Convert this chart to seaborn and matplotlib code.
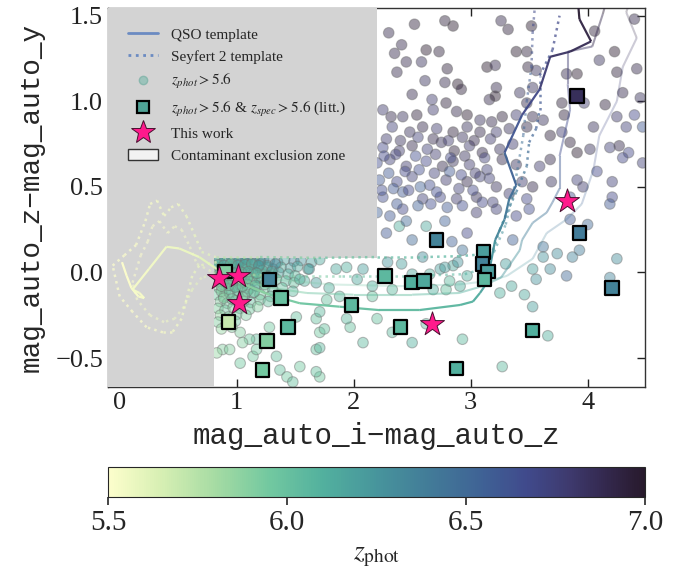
import matplotlib
matplotlib.use("Agg")
import matplotlib.pyplot as plt
import numpy as np
import pandas as pd
import seaborn as sns
from matplotlib.colors import LinearSegmentedColormap, Normalize
from matplotlib.collections import LineCollection
from matplotlib.lines import Line2D
from matplotlib.patches import Patch, Polygon

# ---- colour scale (zphot) ----
z_min, z_max = 5.5, 7.0
cbar_ticks = [5.5, 6.0, 6.5, 7.0]

# ---- contaminant exclusion zone ----
zone_x = [-0.2, 0.81, 0.81, 2.2, 2.2, -0.2]
zone_y = [-0.8, -0.8, 0.085, 0.085, 1.7, 1.7]

# ---- templates (colour track, colour-coded with z) ----
qso1_x = [0.02, 0.06, 0.10, 0.16, 0.21, 0.17, 0.11, 0.25, 0.40, 0.51,
          0.68, 0.83, 1.03, 1.28, 1.54, 1.88, 2.22, 2.56, 2.91, 3.02,
          3.08, 3.14, 3.21, 3.29, 3.33, 3.39, 3.29, 3.44, 3.59, 3.68,
          3.85, 4.03, 3.93, 3.92]
qso1_y = [0.06, -0.02, -0.09, -0.14, -0.15, -0.12, -0.10, 0.02, 0.15, 0.14,
          0.09, 0.02, -0.06, -0.13, -0.18, -0.20, -0.22, -0.22, -0.19, -0.17,
          -0.12, -0.06, 0.19, 0.31, 0.43, 0.51, 0.70, 0.92, 1.07, 1.26,
          1.29, 1.35, 1.48, 1.56]
qso1_z = [5.50, 5.50, 5.51, 5.52, 5.52, 5.53, 5.53, 5.54, 5.55, 5.56,
          5.58, 5.62, 5.85, 5.92, 5.96, 6.00, 6.02, 6.05, 6.08, 6.10,
          6.15, 6.20, 6.30, 6.38, 6.45, 6.50, 6.58, 6.65, 6.72, 6.80,
          6.85, 6.90, 6.95, 7.00]

qso2_x = [0.85, 1.00, 1.30, 1.60, 2.00, 2.50, 2.90, 3.10, 3.26, 3.42, 3.44,
          3.53, 3.65, 3.70, 3.76, 3.76, 3.85, 3.83, 3.83, 4.04, 4.13, 4.15]
qso2_y = [0.00, -0.04, -0.09, -0.12, -0.13, -0.13, -0.12, -0.08, -0.03, 0.13, 0.19,
          0.29, 0.35, 0.41, 0.49, 0.68, 0.95, 1.10, 1.29, 1.32, 1.51, 1.56]
qso2_z = [5.75, 5.85, 5.92, 5.97, 6.00, 6.04, 6.08, 6.12, 6.20, 6.30, 6.35,
          6.40, 6.45, 6.50, 6.55, 6.62, 6.70, 6.75, 6.80, 6.85, 6.95, 7.00]

qso3_x = [0.90, 1.30, 1.80, 2.40, 2.90, 3.15, 3.31, 3.53, 3.65, 3.82, 3.95,
          4.05, 4.10, 4.25, 4.30, 4.42, 4.33, 4.35]
qso3_y = [0.02, -0.04, -0.07, -0.08, -0.07, -0.05, -0.02, 0.08, 0.23, 0.31, 0.40,
          0.60, 0.80, 1.00, 1.20, 1.37, 1.52, 1.56]
qso3_z = [5.80, 5.90, 5.97, 6.02, 6.08, 6.15, 6.20, 6.30, 6.40, 6.45, 6.50,
          6.60, 6.65, 6.72, 6.80, 6.87, 6.95, 7.00]

sey1_x = [0.83, 0.68, 0.62, 0.57, 0.53, 0.45, 0.37, 0.23, 0.11, 0.00,
          -0.06, 0.04, 0.14, 0.22, 0.26, 0.32, 0.38, 0.44, 0.50, 0.57,
          0.64, 0.70, 0.82, 1.20, 1.70, 2.20, 2.60, 2.90, 3.08, 3.19,
          3.25, 3.31, 3.39, 3.48, 3.50, 3.56, 3.59, 3.59, 3.70, 3.76]
sey1_y = [0.06, 0.04, -0.02, -0.16, -0.27, -0.35, -0.35, -0.32, -0.23, -0.14,
          0.04, 0.10, 0.16, 0.30, 0.40, 0.42, 0.33, 0.38, 0.40, 0.33,
          0.22, 0.12, 0.09, 0.09, 0.085, 0.09, 0.09, 0.095, 0.105, 0.13,
          0.25, 0.35, 0.47, 0.62, 0.76, 0.84, 0.95, 1.15, 1.30, 1.50]
sey1_z = [5.60, 5.58, 5.56, 5.55, 5.54, 5.53, 5.52, 5.51, 5.50, 5.50,
          5.50, 5.50, 5.51, 5.52, 5.52, 5.53, 5.53, 5.54, 5.54, 5.55,
          5.56, 5.58, 5.62, 5.85, 5.95, 6.02, 6.06, 6.10, 6.15, 6.20,
          6.28, 6.34, 6.40, 6.45, 6.50, 6.54, 6.58, 6.62, 6.66, 6.70]

sey2_x = [0.85, 0.70, 0.62, 0.55, 0.47, 0.38, 0.26, 0.15, 0.11, 0.18,
          0.24, 0.28, 0.34, 0.41, 0.47, 0.53, 0.60, 0.66, 0.80, 1.30,
          1.90, 2.50, 2.95, 3.10, 3.20, 3.30, 3.36, 3.40, 3.45, 3.48,
          3.52, 3.53, 3.55]
sey2_y = [-0.01, -0.03, -0.10, -0.20, -0.27, -0.29, -0.25, -0.16, -0.06, 0.10,
          0.18, 0.27, 0.30, 0.23, 0.27, 0.25, 0.15, 0.05, 0.00, -0.02,
          -0.02, -0.02, -0.01, 0.02, 0.12, 0.28, 0.45, 0.60, 0.80, 1.00,
          1.20, 1.40, 1.56]
sey2_z = [5.62, 5.60, 5.58, 5.56, 5.55, 5.54, 5.53, 5.52, 5.51, 5.50,
          5.50, 5.51, 5.51, 5.52, 5.52, 5.53, 5.54, 5.56, 5.60, 5.90,
          5.98, 6.04, 6.10, 6.15, 6.22, 6.30, 6.36, 6.42, 6.48, 6.54,
          6.60, 6.65, 6.70]

# ---- zphot > 5.6 candidates (circles) ----
upper_x = [2.78, 2.85, 3.26, 3.32, 3.52, 2.30, 2.52,
           2.41, 2.62, 2.73, 2.45, 2.58, 3.39, 3.48, 2.35,
           2.37, 2.80, 3.14, 3.21, 3.49, 3.56, 3.82, 3.91, 4.25, 4.42, 4.23, 4.10, 4.06, 4.40,
           2.61, 2.78, 2.89, 2.92, 3.22, 3.53,
           2.50, 2.67, 2.79, 3.16, 3.21, 3.42, 3.48, 3.78, 3.97, 4.30, 4.45, 4.15,
           2.25, 2.32, 2.42, 2.54, 2.68, 2.88, 2.97, 3.08, 3.18, 3.27, 3.39, 3.53, 3.62, 3.80, 4.25, 4.40,
           4.33, 4.47, 4.05,
           2.33, 2.48, 2.59, 2.71, 2.85, 2.97, 3.08, 3.22, 3.33, 3.48, 3.68, 3.78,
           2.25, 2.39, 2.50, 2.63, 2.75, 2.86, 2.99, 3.10, 3.25, 3.36, 3.85, 3.91, 4.02, 4.19, 4.27, 4.35,
           2.20, 2.31, 2.45, 2.62, 2.76, 2.85, 2.99, 3.14, 3.27, 3.39, 3.59, 3.68, 4.30, 4.47,
           2.22, 2.37, 2.50, 2.65, 2.79, 2.97, 3.08, 3.22, 3.44, 3.53, 3.69, 3.91, 3.96, 4.08, 4.21,
           2.25, 2.42, 2.59, 2.74, 2.88, 3.05, 3.19, 3.33, 3.48, 3.85, 4.21, 4.19,
           2.20, 2.31, 2.42, 2.93, 3.05, 3.22, 3.39, 3.50, 3.85, 4.00,
           2.28, 2.50, 2.97, 3.36, 3.62, 2.39, 2.84]
upper_y = [1.47, 1.44, 1.47, 1.42, 1.44, 1.40, 1.45,
           1.33, 1.30, 1.29, 1.23, 1.23, 1.29, 1.29, 1.28,
           1.17, 1.19, 1.20, 1.21, 1.20, 1.18, 1.16, 1.16, 1.17, 1.19, 1.29, 1.24, 1.41, 1.48,
           1.12, 1.11, 1.10, 1.07, 1.08, 1.08,
           1.04, 1.01, 0.99, 1.01, 1.03, 1.05, 0.99, 0.99, 0.99, 1.05, 1.02, 0.98,
           0.95, 0.91, 0.91, 0.92, 0.95, 0.94, 0.92, 0.89, 0.88, 0.91, 0.92, 0.91, 0.89, 0.92, 0.91, 0.92,
           0.85, 0.85, 0.85,
           0.85, 0.82, 0.85, 0.84, 0.82, 0.85, 0.82, 0.82, 0.84, 0.85, 0.80, 0.82,
           0.73, 0.71, 0.74, 0.72, 0.76, 0.71, 0.74, 0.70, 0.72, 0.75, 0.76, 0.70, 0.72, 0.73, 0.74, 0.70,
           0.64, 0.66, 0.62, 0.65, 0.62, 0.65, 0.63, 0.60, 0.66, 0.63, 0.62, 0.66, 0.67, 0.64,
           0.54, 0.53, 0.56, 0.51, 0.54, 0.53, 0.56, 0.50, 0.53, 0.50, 0.53, 0.54, 0.50, 0.59, 0.53,
           0.44, 0.47, 0.43, 0.44, 0.43, 0.44, 0.41, 0.46, 0.43, 0.44, 0.44, 0.40,
           0.35, 0.33, 0.37, 0.39, 0.35, 0.37, 0.33, 0.37, 0.31, 0.28,
           0.23, 0.19, 0.23, 0.19, 0.15, 0.27, 0.18]
upper_z = [6.95, 7.0, 6.9, 6.95, 7.0, 6.9, 6.95,
           6.9, 7.0, 6.95, 6.9, 6.85, 7.0, 6.95, 6.9,
           6.9, 6.95, 7.0, 6.9, 6.95, 6.85, 6.9, 7.0, 6.95, 6.9, 7.0, 6.85, 6.95, 6.9,
           6.85, 6.9, 7.0, 6.95, 6.9, 6.85,
           6.9, 6.8, 6.95, 6.9, 7.0, 6.85, 6.9, 6.95, 6.8, 6.9, 6.85, 6.95,
           6.8, 6.9, 6.85, 6.95, 6.8, 6.9, 7.0, 6.85, 6.9, 6.95, 6.8, 6.9, 6.85, 6.95, 6.8, 6.7,
           6.75, 6.6, 6.85,
           6.75, 6.85, 6.9, 6.8, 6.95, 6.85, 6.9, 6.8, 6.85, 6.9, 6.95, 6.8,
           6.7, 6.8, 6.9, 6.75, 6.85, 6.95, 6.8, 6.9, 6.85, 6.8, 6.95, 7.0, 6.85, 6.75, 6.9, 6.7,
           6.65, 6.75, 6.8, 6.7, 6.9, 6.85, 6.8, 6.75, 6.9, 6.85, 6.8, 6.9, 6.7, 6.75,
           6.6, 6.7, 6.75, 6.65, 6.8, 6.9, 6.75, 6.85, 6.8, 6.9, 6.85, 6.75, 6.8, 6.7, 6.75,
           6.65, 6.6, 6.75, 6.7, 6.8, 6.85, 6.75, 6.8, 6.7, 6.65, 6.7, 6.6,
           6.55, 6.6, 6.7, 6.65, 6.8, 6.75, 6.7, 6.65, 6.6, 6.5,
           6.6, 6.5, 6.7, 6.55, 6.45, 6.1, 6.55]

core_x = [2.28, 2.40, 2.55, 2.68, 2.81, 2.93, 3.03, 3.17,
          2.26, 2.36, 2.53, 2.70, 2.83, 2.95, 3.12,
          2.30, 2.44, 2.56, 2.69, 2.82, 2.92, 3.04, 3.16,
          2.24, 2.34, 2.47, 2.57, 2.71, 2.90, 3.02,
          2.37, 2.55, 2.66, 2.80, 3.10,
          2.45, 2.62, 2.78]
core_y = [0.78, 0.77, 0.79, 0.78, 0.77, 0.79, 0.77, 0.78,
          0.68, 0.69, 0.68, 0.69, 0.67, 0.68, 0.67,
          0.58, 0.59, 0.60, 0.58, 0.59, 0.57, 0.58, 0.55,
          0.48, 0.49, 0.48, 0.50, 0.47, 0.49, 0.48,
          0.40, 0.39, 0.40, 0.38, 0.41,
          0.30, 0.27, 0.30]
core_z = [6.8, 6.85, 6.75, 6.9, 6.8, 6.85, 6.9, 6.8,
          6.7, 6.75, 6.65, 6.8, 6.7, 6.85, 6.75,
          6.6, 6.7, 6.65, 6.75, 6.6, 6.7, 6.8, 6.75,
          6.65, 6.6, 6.7, 6.55, 6.65, 6.75, 6.7,
          6.6, 6.55, 6.65, 6.6, 6.7,
          6.5, 6.15, 6.55]

cluster_x = [0.84, 0.91, 0.97, 1.04, 1.09, 1.16, 1.23, 1.28, 1.35, 1.41, 1.49, 1.55, 1.64, 1.71,
             0.83, 0.88, 0.95, 1.00, 1.07, 1.12, 1.19, 1.26, 1.31, 1.38, 1.46, 1.52, 1.61,
             0.86, 0.92, 0.99, 1.05, 1.10, 1.18, 1.24, 1.31, 1.36, 1.44, 1.50,
             0.83, 0.89, 0.96, 1.02, 1.08, 1.15, 1.21, 1.27, 1.34, 1.42, 1.49, 1.58,
             0.85, 0.91, 0.98, 1.04, 1.11, 1.17, 1.24, 1.31, 1.39,
             0.83, 0.89, 0.94, 1.01, 1.07, 1.14, 1.20, 1.29, 1.36,
             0.86, 0.92, 0.99, 1.06, 1.12, 1.20, 1.27,
             0.84, 0.90, 0.97, 1.03, 1.11, 1.18,
             0.86, 0.93, 1.00, 1.08,
             0.84, 0.91, 0.99,
             0.87, 0.96]
cluster_y = [0.07, 0.06, 0.075, 0.065, 0.07, 0.055, 0.075, 0.07, 0.06, 0.075, 0.065, 0.07, 0.06, 0.075,
             0.03, 0.02, 0.035, 0.025, 0.03, 0.015, 0.035, 0.03, 0.02, 0.03, 0.025, 0.035, 0.02,
             -0.01, -0.015, 0.0, -0.01, -0.02, -0.005, -0.01, -0.015, 0.0, -0.01, -0.02,
             -0.05, -0.055, -0.045, -0.05, -0.06, -0.045, -0.05, -0.055, -0.04, -0.05, -0.06, -0.05,
             -0.09, -0.10, -0.085, -0.09, -0.095, -0.08, -0.09, -0.10, -0.09,
             -0.13, -0.14, -0.125, -0.13, -0.135, -0.12, -0.13, -0.14, -0.13,
             -0.17, -0.18, -0.165, -0.17, -0.175, -0.16, -0.17,
             -0.21, -0.22, -0.205, -0.21, -0.215, -0.20,
             -0.25, -0.26, -0.245, -0.25,
             -0.29, -0.30, -0.285,
             -0.33, -0.32]
cluster_z = [6.2, 6.1, 6.25, 6.15, 6.3, 6.2, 6.35, 6.25, 6.3, 6.2, 6.35, 6.25, 6.2, 6.15,
             6.0, 6.1, 6.05, 6.15, 6.1, 6.2, 6.3, 6.15, 6.25, 6.1, 6.2, 6.15, 6.1,
             6.0, 5.95, 6.05, 6.1, 6.0, 6.15, 6.1, 6.05, 6.2, 6.1, 6.05,
             5.95, 6.0, 6.05, 5.95, 6.1, 6.0, 6.05, 6.1, 6.0, 6.05, 6.0, 6.1,
             5.9, 6.0, 5.95, 6.05, 6.0, 6.1, 5.95, 6.05, 6.0,
             5.95, 5.9, 6.0, 5.95, 6.05, 6.0, 5.95, 6.0, 6.05,
             5.9, 5.95, 6.0, 5.9, 6.0, 5.95, 6.0,
             5.9, 5.95, 5.9, 6.0, 5.95, 5.9,
             5.85, 5.9, 5.95, 5.9,
             5.9, 5.85, 5.95,
             5.85, 5.9]

cluster2_x = [0.87, 0.94, 1.00, 1.07, 1.13, 1.20, 1.26, 1.33,
              0.86, 0.93, 1.02, 1.08, 1.15, 1.22, 1.30,
              0.85, 0.92, 1.00, 1.06, 1.13, 1.19, 1.27,
              0.88, 0.95, 1.02, 1.09, 1.16, 1.24,
              0.87, 0.94, 1.01, 1.09, 1.15,
              0.89, 0.96, 1.05]
cluster2_y = [0.05, 0.045, 0.05, 0.055, 0.045, 0.05, 0.04, 0.05,
              0.01, 0.005, 0.01, 0.015, 0.0, 0.01, 0.005,
              -0.03, -0.035, -0.025, -0.03, -0.035, -0.03, -0.025,
              -0.07, -0.075, -0.065, -0.07, -0.075, -0.07,
              -0.11, -0.115, -0.105, -0.11, -0.115,
              -0.15, -0.155, -0.145]
cluster2_z = [6.1, 6.15, 6.2, 6.1, 6.25, 6.15, 6.2, 6.3,
              6.0, 6.05, 6.1, 6.0, 6.1, 6.05, 6.15,
              5.95, 6.0, 6.05, 6.0, 5.95, 6.05, 6.0,
              5.95, 6.0, 5.9, 6.0, 6.05, 5.95,
              5.9, 5.95, 6.0, 5.95, 6.0,
              5.9, 5.95, 5.9]

cluster3_x = [0.85, 0.90, 0.96, 1.02, 1.08, 1.14, 1.20,
              0.84, 0.89, 0.95, 1.01, 1.07, 1.13, 1.19,
              0.86, 0.92, 0.98, 1.04, 1.10, 1.17,
              0.85, 0.91, 0.97, 1.03, 1.09,
              0.87, 0.93, 0.99, 1.05]
cluster3_y = [0.08, 0.075, 0.08, 0.07, 0.08, 0.075, 0.07,
              0.045, 0.04, 0.05, 0.04, 0.045, 0.05, 0.04,
              0.0, 0.005, -0.005, 0.0, 0.005, -0.005,
              -0.04, -0.035, -0.045, -0.04, -0.035,
              -0.08, -0.075, -0.085, -0.08]
cluster3_z = [6.15, 6.2, 6.1, 6.25, 6.2, 6.3, 6.25,
              6.05, 6.1, 6.0, 6.1, 6.15, 6.05, 6.2,
              6.0, 5.95, 6.05, 6.0, 6.1, 6.05,
              5.95, 6.0, 5.95, 6.05, 6.0,
              5.9, 5.95, 6.0, 5.95]

low_x = [1.85, 1.94, 2.08, 2.16, 2.33, 2.03, 1.79, 1.68, 1.62, 1.54, 1.48, 1.77, 1.88,
         2.74, 2.85, 2.97, 2.62, 2.68, 2.79, 2.91, 2.16,
         1.68, 1.71, 1.51, 1.28, 1.17, 1.03, 1.14, 1.34, 1.54, 1.68, 2.08, 1.97, 2.33,
         2.50, 2.93, 1.03, 1.37, 1.71,
         0.88, 1.68, 1.43, 1.48, 1.71, 1.94, 1.75, 1.71, 1.11, 1.05, 0.94, 0.83, 1.17,
         2.93, 2.59, 2.78, 2.89, 2.82, 2.65, 2.50, 2.41, 2.29,
         3.93, 3.87, 3.82, 3.74, 3.62, 3.68, 3.53, 3.56, 3.46, 3.53, 3.66, 3.27,
         4.25, 4.19, 3.30, 3.35, 3.25, 2.20, 2.62]
low_y = [0.02, 0.03, 0.02, -0.08, -0.10, -0.04, -0.09, -0.06, 0.02, -0.04, -0.11, -0.16, -0.14,
         0.02, 0.04, -0.02, -0.06, -0.10, -0.10, -0.08, -0.14,
         -0.27, -0.35, -0.26, -0.32, -0.39, -0.35, -0.49, -0.49, -0.55, -0.45, -0.41, -0.32, -0.35,
         -0.41, -0.39, -0.53, -0.57, -0.61,
         -0.45, -0.58, -0.61, -0.64, -0.44, -0.27, -0.33, -0.23, -0.39, -0.41, -0.45, -0.47, -0.45,
         0.13, 0.09, 0.03, 0.06, -0.05, -0.01, -0.01, 0.05, 0.06,
         0.13, 0.09, -0.02, 0.11, 0.09, 0.02, 0.02, -0.04, -0.13, -0.20, -0.37, -0.55,
         0.08, -0.03, 0.05, -0.08, -0.12, -0.27, -0.30]
low_z = [6.15, 6.1, 6.2, 6.1, 6.05, 6.15, 6.1, 6.2, 6.25, 6.1, 6.05, 6.0, 6.05,
         6.2, 6.15, 6.1, 6.05, 6.1, 6.0, 6.1, 6.0,
         6.0, 5.95, 6.0, 5.95, 6.0, 5.9, 5.95, 6.0, 5.95, 6.0, 6.05, 6.0, 6.05,
         6.1, 6.05, 5.95, 6.0, 5.95,
         5.9, 6.0, 5.95, 6.0, 6.05, 6.05, 6.0, 6.05, 5.95, 5.9, 5.9, 5.85, 5.95,
         6.45, 6.3, 6.2, 6.25, 6.05, 6.1, 6.15, 6.2, 6.25,
         6.4, 6.35, 6.5, 6.3, 6.25, 6.3, 6.2, 6.25, 6.15, 6.2, 6.1, 6.05,
         6.3, 6.35, 6.2, 6.15, 6.1, 6.0, 6.05]

# ---- zphot > 5.6 & zspec > 5.6 (literature, squares) ----
spec_x = [3.91, 2.71, 3.93, 4.21, 3.11, 3.10, 3.15, 3.12, 2.50, 2.60, 2.27,
          2.40, 3.53, 2.88, 1.98, 1.28, 1.38, 1.44, 1.26, 1.22, 0.93, 0.90]
spec_y = [1.03, 0.19, 0.23, -0.09, 0.12, 0.05, 0.006, -0.04, -0.06, -0.05, -0.02,
          -0.32, -0.34, -0.56, -0.19, -0.04, -0.15, -0.32, -0.40, -0.57, -0.29, 0.006]
spec_z = [6.85, 6.35, 6.4, 6.35, 6.2, 6.35, 6.2, 6.05, 6.1, 6.15, 6.05,
          6.05, 6.1, 6.1, 6.05, 6.35, 6.0, 6.05, 5.9, 5.95, 5.7, 5.9]

# ---- this work (stars) ----
work_x = [3.82, 2.67, 0.85, 1.01, 1.02]
work_y = [0.42, -0.30, -0.03, -0.02, -0.18]

deep = LinearSegmentedColormap.from_list("deep_like", [
    (0.00, "#fdfecc"), (0.10, "#d6efb3"), (0.20, "#a5dba3"), (0.30, "#72c8a0"),
    (0.40, "#52b09e"), (0.50, "#47959c"), (0.60, "#427b98"), (0.70, "#3f6195"),
    (0.78, "#404a8c"), (0.86, "#3e3a6e"), (0.93, "#33284d"), (1.00, "#281a2c")])
norm = Normalize(z_min, z_max)

sns.set_style("ticks")
plt.rcParams["font.family"] = ["Liberation Serif", "DejaVu Serif"]
plt.rcParams["mathtext.fontset"] = "stix"

fig = plt.figure(figsize=(6.92, 5.71), dpi=100)
ax = fig.add_axes([0.156, 0.322, 0.776, 0.664])
cax = fig.add_axes([0.156, 0.130, 0.776, 0.0525])

circles = pd.DataFrame({
    "x": upper_x + core_x + cluster_x + cluster2_x + cluster3_x + low_x,
    "y": upper_y + core_y + cluster_y + cluster2_y + cluster3_y + low_y,
    "z": upper_z + core_z + cluster_z + cluster2_z + cluster3_z + low_z,
})
sns.scatterplot(data=circles, x="x", y="y", hue="z", palette=deep, hue_norm=norm,
                s=58, alpha=0.45, edgecolor="#6f6f6f", linewidth=0.8,
                legend=False, ax=ax, zorder=2)

ax.add_patch(Polygon(np.column_stack([zone_x, zone_y]), closed=True,
                     facecolor="#d3d3d3", edgecolor="none", zorder=3))


def draw_track(xs, ys, zs, ls, lw, alpha):
    pts = np.column_stack([xs, ys])
    segs = np.stack([pts[:-1], pts[1:]], axis=1)
    zz = np.asarray(zs)
    lc = LineCollection(segs, cmap=deep, norm=norm, linestyles=ls,
                        linewidths=lw, alpha=alpha, zorder=4)
    lc.set_array((zz[:-1] + zz[1:]) / 2)
    ax.add_collection(lc)


draw_track(qso3_x, qso3_y, qso3_z, "-", 1.5, 0.25)
draw_track(qso2_x, qso2_y, qso2_z, "-", 1.5, 0.45)
draw_track(sey2_x, sey2_y, sey2_z, ":", 1.8, 0.55)
draw_track(sey1_x, sey1_y, sey1_z, ":", 1.8, 0.7)
draw_track(qso1_x, qso1_y, qso1_z, "-", 1.6, 0.95)

spec = pd.DataFrame({"x": spec_x, "y": spec_y, "z": spec_z})
sns.scatterplot(data=spec, x="x", y="y", hue="z", palette=deep, hue_norm=norm,
                marker="s", s=95, edgecolor="black", linewidth=1.6,
                legend=False, ax=ax, zorder=6)

work = pd.DataFrame({"x": work_x, "y": work_y})
sns.scatterplot(data=work, x="x", y="y", marker="*", s=330, color="#ff1a8c",
                edgecolor="#4a1030", linewidth=0.7, legend=False, ax=ax, zorder=7)

ax.set_xlim(-0.1, 4.49)
ax.set_ylim(-0.67, 1.545)
ax.set_xticks([0, 1, 2, 3, 4])
ax.set_yticks([-0.5, 0.0, 0.5, 1.0, 1.5])
ax.tick_params(direction="in", top=True, right=True, length=6, width=1,
               labelsize=19, colors="#222222")
for s in ax.spines.values():
    s.set_linewidth(1.0)
    s.set_color("#333333")
ax.set_xlabel("mag_auto_i\u2212mag_auto_z", family="Liberation Mono", fontsize=21, labelpad=6)
ax.set_ylabel("mag_auto_z\u2212mag_auto_y", family="Liberation Mono", fontsize=20, labelpad=8)

handles = [
    Line2D([0], [0], color="#6b8bc2", lw=2, label="QSO template"),
    Line2D([0], [0], color="#6b8bc2", lw=2, ls=":", label="Seyfert 2 template"),
    Line2D([0], [0], marker="o", ls="", markerfacecolor="#8fbfb5",
           markeredgecolor="#7fb3a8", markersize=6, alpha=0.8, label=r"$z_{phot} > 5.6$"),
    Line2D([0], [0], marker="s", ls="", markerfacecolor="#4fa396",
           markeredgecolor="black", markeredgewidth=1.6, markersize=9,
           label=r"$z_{phot} > 5.6$ & $z_{spec} > 5.6$ (litt.)"),
    Line2D([0], [0], marker="*", ls="", markerfacecolor="#ff1a8c",
           markeredgecolor="#4a1030", markeredgewidth=0.7, markersize=18, label="This work"),
    Patch(facecolor="#f2f2f2", edgecolor="#333333", linewidth=1.0,
          label="Contaminant exclusion zone"),
]
ax.legend(handles=handles, loc="upper left", frameon=False, fontsize=11,
          labelspacing=0.55, handletextpad=0.8, borderaxespad=0.9)

cb = fig.colorbar(plt.cm.ScalarMappable(norm=norm, cmap=deep), cax=cax,
                  orientation="horizontal")
cb.set_ticks(cbar_ticks)
cb.ax.tick_params(labelsize=21, length=6, width=1.2, direction="out")
cb.outline.set_linewidth(0.8)
cb.set_label(r"$z_{\rm phot}$", fontsize=20, labelpad=6)

fig.savefig("out.png", dpi=100)
